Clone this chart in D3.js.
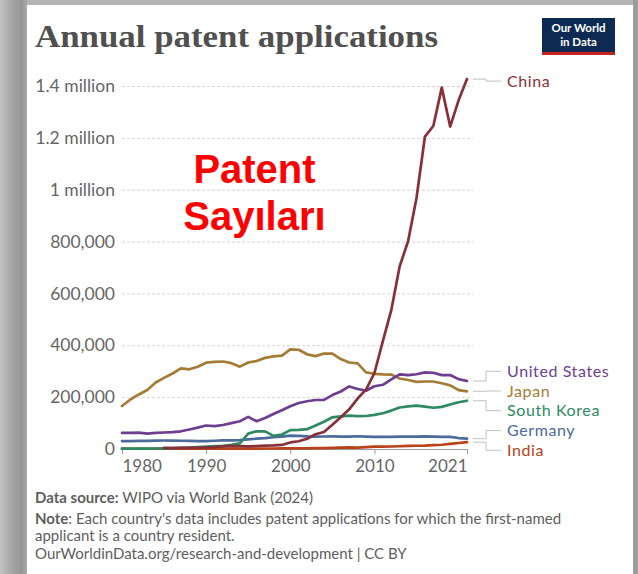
<!DOCTYPE html>
<html><head><meta charset="utf-8">
<script src="https://cdn.jsdelivr.net/npm/d3@7"></script>
<style>
html,body{margin:0;padding:0;background:#fff;}
svg{display:block;}
text{font-family:Lato,"Noto Sans",sans-serif;}
</style></head>
<body>
<svg id="chart" width="638" height="574"></svg>
<script>
// ---------- data ----------
const years = [1980,1981,1982,1983,1984,1985,1986,1987,1988,1989,
  1990,1991,1992,1993,1994,1995,1996,1997,1998,1999,
  2000,2001,2002,2003,2004,2005,2006,2007,2008,2009,
  2010,2011,2012,2013,2014,2015,2016,2017,2018,2019,
  2020,2021];
const china = [null,null,null,null,null,4065,3494,4177,4780,5402,
  5832,7372,10387,12160,11191,10011,11471,12672,13726,15596,
  25346,30038,39806,56769,65786,93485,122318,153060,194579,229096,
  293066,415829,535313,704936,801135,968252,1204981,1245709,1393815,1243568,
  1344817,1426644];
const unitedStates = [62098,62404,63316,59391,61841,63673,65195,68315,75192,82370,
  90643,87955,92425,99955,107233,123962,106892,119214,134733,149251,
  164795,177511,184245,188941,189536,207867,221784,241347,231588,224912,
  241977,247750,268782,287831,285096,288335,295327,293904,285095,285113,
  269586,262244];
const japan = [165730,191020,210444,227708,256644,274348,291302,310904,307395,317353,
  332952,335933,337514,331087,317591,333770,339520,351487,357379,360180,
  384201,382815,365204,358184,368416,367960,347060,333498,330110,295315,
  290081,287580,287013,271731,265959,258839,260244,260290,253630,245372,
  227348,222452];
const southKorea = [1241,1319,1556,1599,1977,2703,3641,4871,5696,7127,
  9082,11015,12399,15875,21627,59249,68405,67786,50596,55970,
  72831,73714,76570,90313,105250,122188,125476,128701,127114,127316,
  131805,138034,148136,159978,164073,167275,163424,159084,162561,171603,
  180477,186245];
const germany = [30582,30700,31400,31700,32500,32700,32400,31800,31500,30700,
  30700,31900,33200,33000,34100,37000,39800,42100,45400,48000,
  51700,50900,48600,47900,48300,48400,48000,47900,49200,47900,
  47000,46900,46600,47400,48100,47400,48500,47800,46600,46600,
  42300,39800];
const india = [1100,1050,1000,1000,1000,1000,1100,1100,1100,1100,
  1150,1100,1150,1200,1250,1550,1650,1900,1950,2200,
  2200,2400,2700,3200,3600,4500,5300,6300,5300,7300,
  8850,8840,9550,10670,12040,12580,13200,14960,16290,19450,
  23140,26270];
const seriesNames = ["China","United States","Japan","South Korea","Germany","India"];
const seriesValues = [china, unitedStates, japan, southKorea, germany, india];
const seriesColors = ["#883039","#6D3E91","#A67B35","#2D8A62","#4C6A9C","#B8421A"];
const yTicks = [0,200000,400000,600000,800000,1000000,1200000,1400000];
const yTickLabels = ["0","200,000","400,000","600,000","800,000","1 million","1.2 million","1.4 million"];
const xTicks = [1980,1990,2000,2010,2021];
const xTickLabels = ["1980","1990","2000","2010","2021"];
const titleText = "Annual patent applications";
const overlayLines = ["Patent","Sayıları"];

// ---------- layout ----------
const svg = d3.select("#chart");
const W = 638, H = 574;
const plotL = 122, plotR = 467, plotT = 86, plotB = 449, gridR = 473;

const defs = svg.append("defs");
const grad = defs.append("linearGradient").attr("id","lg").attr("x1","0").attr("x2","1");
grad.append("stop").attr("offset","0").attr("stop-color","#c4c4c4");
grad.append("stop").attr("offset","0.45").attr("stop-color","#a4a4a4");
grad.append("stop").attr("offset","0.8").attr("stop-color","#969696");
grad.append("stop").attr("offset","1").attr("stop-color","#ababab");

svg.append("rect").attr("width",W).attr("height",H).attr("fill","#fff");
svg.append("rect").attr("x",0).attr("y",0).attr("width",W).attr("height",5).attr("fill","#b3b3b3");
svg.append("rect").attr("x",0).attr("y",0).attr("width",27).attr("height",H).attr("fill","url(#lg)");
svg.append("rect").attr("x",633).attr("y",0).attr("width",5).attr("height",H).attr("fill","#9c9c9c");

// title
svg.append("text").attr("x",35).attr("y",47)
  .attr("textLength",403).attr("lengthAdjust","spacingAndGlyphs")
  .style("font-family","'Liberation Serif','DejaVu Serif',serif")
  .style("font-weight","700").style("font-size","32px").attr("fill","#505050")
  .text(titleText);

// logo
const logo = svg.append("g");
logo.append("rect").attr("x",542).attr("y",18).attr("width",73).attr("height",37).attr("fill","#0c2a52");
logo.append("rect").attr("x",542).attr("y",52).attr("width",73).attr("height",3).attr("fill","#c8231f");
logo.append("text").attr("x",578.5).attr("y",32).attr("text-anchor","middle")
  .attr("fill","#fff").style("font-weight","700").style("font-size","11.5px").text("Our World");
logo.append("text").attr("x",578.5).attr("y",46).attr("text-anchor","middle")
  .attr("fill","#fff").style("font-weight","700").style("font-size","11.5px").text("in Data");

// scales
const x = d3.scaleLinear().domain([1980,2021]).range([plotL,plotR]);
const y = d3.scaleLinear().domain([0,1400000]).range([plotB,plotT]);

// y axis + grid
const yAxis = svg.append("g").attr("transform",`translate(${plotL},0)`)
  .call(d3.axisLeft(y).tickValues(yTicks).tickFormat((d,i)=>yTickLabels[i])
    .tickSize(-(gridR-plotL)).tickPadding(7));
yAxis.select(".domain").remove();
yAxis.selectAll(".tick line").attr("stroke","#d4d4d4").attr("stroke-dasharray","3,2")
  .attr("opacity",d=>d===0?0:1);
yAxis.selectAll(".tick text").attr("fill","#666").style("font-size","17.5px")
  .style("font-family","Lato,sans-serif");

// x axis
const xAxis = svg.append("g").attr("transform",`translate(0,${plotB})`)
  .call(d3.axisBottom(x).tickValues(xTicks).tickFormat((d,i)=>xTickLabels[i])
    .tickSize(5).tickSizeOuter(0));
xAxis.select(".domain").attr("stroke","#999");
xAxis.selectAll(".tick line").attr("stroke","#999");
xAxis.selectAll(".tick text").attr("fill","#666").style("font-size","17px")
  .style("font-family","Lato,sans-serif").attr("y",23).attr("dy",0)
  .attr("text-anchor",(d,i)=> i===0?"start":(i===xTicks.length-1?"end":"middle"));

// lines
const line = d3.line().defined(d=>d[1]!=null).x(d=>x(d[0])).y(d=>y(d[1]));
const order = [4,5,3,2,1,0];
order.forEach(k=>{
  const pts = years.map((yr,i)=>[yr, seriesValues[k][i]]);
  svg.append("path").datum(pts).attr("d",line).attr("fill","none")
    .attr("stroke",seriesColors[k]).attr("stroke-width",2.7)
    .attr("stroke-linejoin","round").attr("stroke-linecap","round");
});

// end labels with simple collision relaxation
const gap = 19.7;
let items = seriesNames.map((n,k)=>{
  const v = seriesValues[k][seriesValues[k].length-1];
  return {name:n, k, endY:y(v), target:y(v)+(k===0?2:0)};
}).sort((a,b)=>a.target-b.target);
let clusters = items.map(it=>({items:[it]}));
function place(c){
  const mean = d3.mean(c.items,d=>d.target);
  const n = c.items.length;
  c.top = mean - (n-1)*gap/2;
  c.items.forEach((it,i)=>it.labelY = c.top + i*gap);
  c.bottom = c.top + (n-1)*gap;
}
clusters.forEach(place);
let merged = true;
while(merged){
  merged=false;
  for(let i=0;i<clusters.length-1;i++){
    if(clusters[i+1].top - clusters[i].bottom < gap){
      clusters[i].items = clusters[i].items.concat(clusters[i+1].items);
      clusters.splice(i+1,1); place(clusters[i]); merged=true; break;
    }
  }
}
const elbowX = 486;
items.forEach(it=>{
  const p = d3.path();
  p.moveTo(plotR+6, it.endY);
  p.lineTo(elbowX, it.endY);
  p.lineTo(elbowX, it.labelY);
  p.lineTo(501, it.labelY);
  svg.append("path").attr("d",p.toString()).attr("fill","none")
    .attr("stroke","#c2c2c2").attr("stroke-width",1);
  svg.append("text").attr("x",507).attr("y",it.labelY).attr("dy","0.35em")
    .attr("fill",seriesColors[it.k]).style("font-size","16px")
    .style("letter-spacing","0.6px")
    .style("font-family","Lato,sans-serif").text(it.name);
});

// overlay red text
overlayLines.forEach((t,i)=>{
  svg.append("text").attr("x",254.5).attr("y",183+i*47).attr("text-anchor","middle")
    .attr("fill","#ff0000").style("font-family","'Liberation Sans',Arial,sans-serif")
    .style("font-weight","700").style("font-size","40px").text(t);
});

// footer
const foot = svg.append("g").style("font-size","15px").attr("fill","#5e5e5e");
const f1 = foot.append("text").attr("x",35).attr("y",503);
f1.append("tspan").style("font-weight","700").text("Data source:");
f1.append("tspan").text(" WIPO via World Bank (2024)");
const f2 = foot.append("text").attr("x",35).attr("y",524);
f2.append("tspan").style("font-weight","700").text("Note");
f2.append("tspan").text(": Each country's data includes patent applications for which the first-named");
foot.append("text").attr("x",35).attr("y",541).text("applicant is a country resident.");
foot.append("text").attr("x",35).attr("y",559).text("OurWorldinData.org/research-and-development  | CC BY");
</script>
</body></html>
